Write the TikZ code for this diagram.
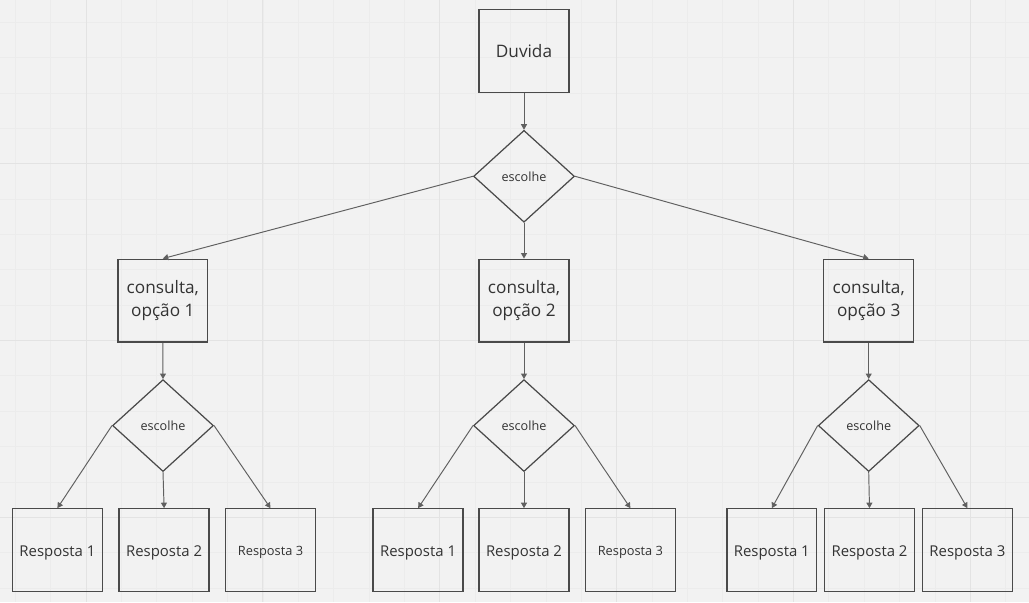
\documentclass[tikz,border=0pt]{standalone}
\usepackage{fontspec}
\setmainfont{Open Sans}
\usetikzlibrary{arrows.meta, shapes.geometric}

\definecolor{canvas}{HTML}{F2F2F2}
\definecolor{gridminor}{HTML}{ECECEC}
\definecolor{gridmajor}{HTML}{E3E3E3}
\definecolor{edge}{HTML}{4A4A4A}
\definecolor{wire}{HTML}{606060}
\definecolor{ink}{HTML}{333333}

\begin{document}
\begin{tikzpicture}[
        x=0.02cm, y=-0.02cm,
        card/.style={rectangle, draw=edge, line width=0.75pt, minimum width=1.8cm, minimum height=1.66cm, text=ink, align=center, inner sep=1pt},
        bigtxt/.style={font=\fontsize{9.8}{13.2}\selectfont},
        midtxt/.style={font=\fontsize{8.5}{10}\selectfont, text height=9.4pt, text depth=2.2pt},
        smalltxt/.style={font=\fontsize{7.3}{9}\selectfont, text height=8.4pt, text depth=2pt},
        choice/.style={diamond, draw=edge, line width=0.7pt, minimum width=2.02cm, minimum height=1.84cm, text=ink, inner sep=0pt, font=\fontsize{7.2}{9}\selectfont},
        arrow/.style={-{Triangle[length=0.11cm, width=0.12cm]}, draw=wire, line width=0.55pt}
    ]
    
    % Canvas and grid
    \fill[canvas] (0,0) rectangle (1029,602);
    \foreach \k in {0,...,28}
        \draw[gridminor, line width=0.4pt] ({14.9+35.4*\k},0) -- ++(0,602);
    \foreach \k in {0,...,16}
        \draw[gridminor, line width=0.4pt] (0,{21.7+35.4*\k}) -- ++(1029,0);
    \foreach \k in {0,...,5}
        \draw[gridmajor, line width=0.5pt] ({85.7+177*\k},0) -- ++(0,602);
    \foreach \k in {0,...,2}
        \draw[gridmajor, line width=0.5pt] (0,{163.3+177*\k}) -- ++(1029,0);
    
    % Question
    \node[card, bigtxt] (duvida) at (524,50.5) {Duvida};
    \node[choice] (esc) at (524,176) {escolhe};
    
    % Consultations
    \node[card, bigtxt] (cons1) at (162.5,300.5) {consulta,\\opção 1};
    \node[card, bigtxt] (cons2) at (524,300.5) {consulta,\\opção 2};
    \node[card, bigtxt] (cons3) at (869,300.5) {consulta,\\opção 3};
    
    \node[choice] (esc1) at (162.7,425.5) {escolhe};
    \node[choice] (esc2) at (524,425.5) {escolhe};
    \node[choice] (esc3) at (869,425.5) {escolhe};
    
    % --- Answers ---
    \node[card, midtxt] (resp11) at (57,550.3) {Resposta 1};
    \node[card, midtxt] (resp12) at (163.8,550.3) {Resposta 2};
    \node[card, smalltxt] (resp13) at (270.3,550.3) {Resposta 3};
    
    \node[card, midtxt] (resp21) at (418,550.3) {Resposta 1};
    \node[card, midtxt] (resp22) at (524,550.3) {Resposta 2};
    \node[card, smalltxt] (resp23) at (630.5,550.3) {Resposta 3};
    
    \node[card, midtxt] (resp31) at (772,550.3) {Resposta 1};
    \node[card, midtxt] (resp32) at (869.8,550.3) {Resposta 2};
    \node[card, midtxt] (resp33) at (967.8,550.3) {Resposta 3};
    
    % --- Connectors ---
    \draw[arrow] (duvida.south) -- (esc.north);
    \draw[arrow] (esc.west) -- (cons1.north);
    \draw[arrow] (esc.south) -- (cons2.north);
    \draw[arrow] (esc.east) -- (cons3.north);
    
    \draw[arrow] (cons1.south) -- (esc1.north);
    \draw[arrow] (cons2.south) -- (esc2.north);
    \draw[arrow] (cons3.south) -- (esc3.north);
    
    \draw[arrow] (esc1.west) -- (resp11.north);
    \draw[arrow] (esc1.south) -- (resp12.north);
    \draw[arrow] (esc1.east) -- (resp13.north);
    
    \draw[arrow] (esc2.west) -- (resp21.north);
    \draw[arrow] (esc2.south) -- (resp22.north);
    \draw[arrow] (esc2.east) -- (resp23.north);
    
    \draw[arrow] (esc3.west) -- (resp31.north);
    \draw[arrow] (esc3.south) -- (resp32.north);
    \draw[arrow] (esc3.east) -- (resp33.north);
    
\end{tikzpicture}
\end{document}
